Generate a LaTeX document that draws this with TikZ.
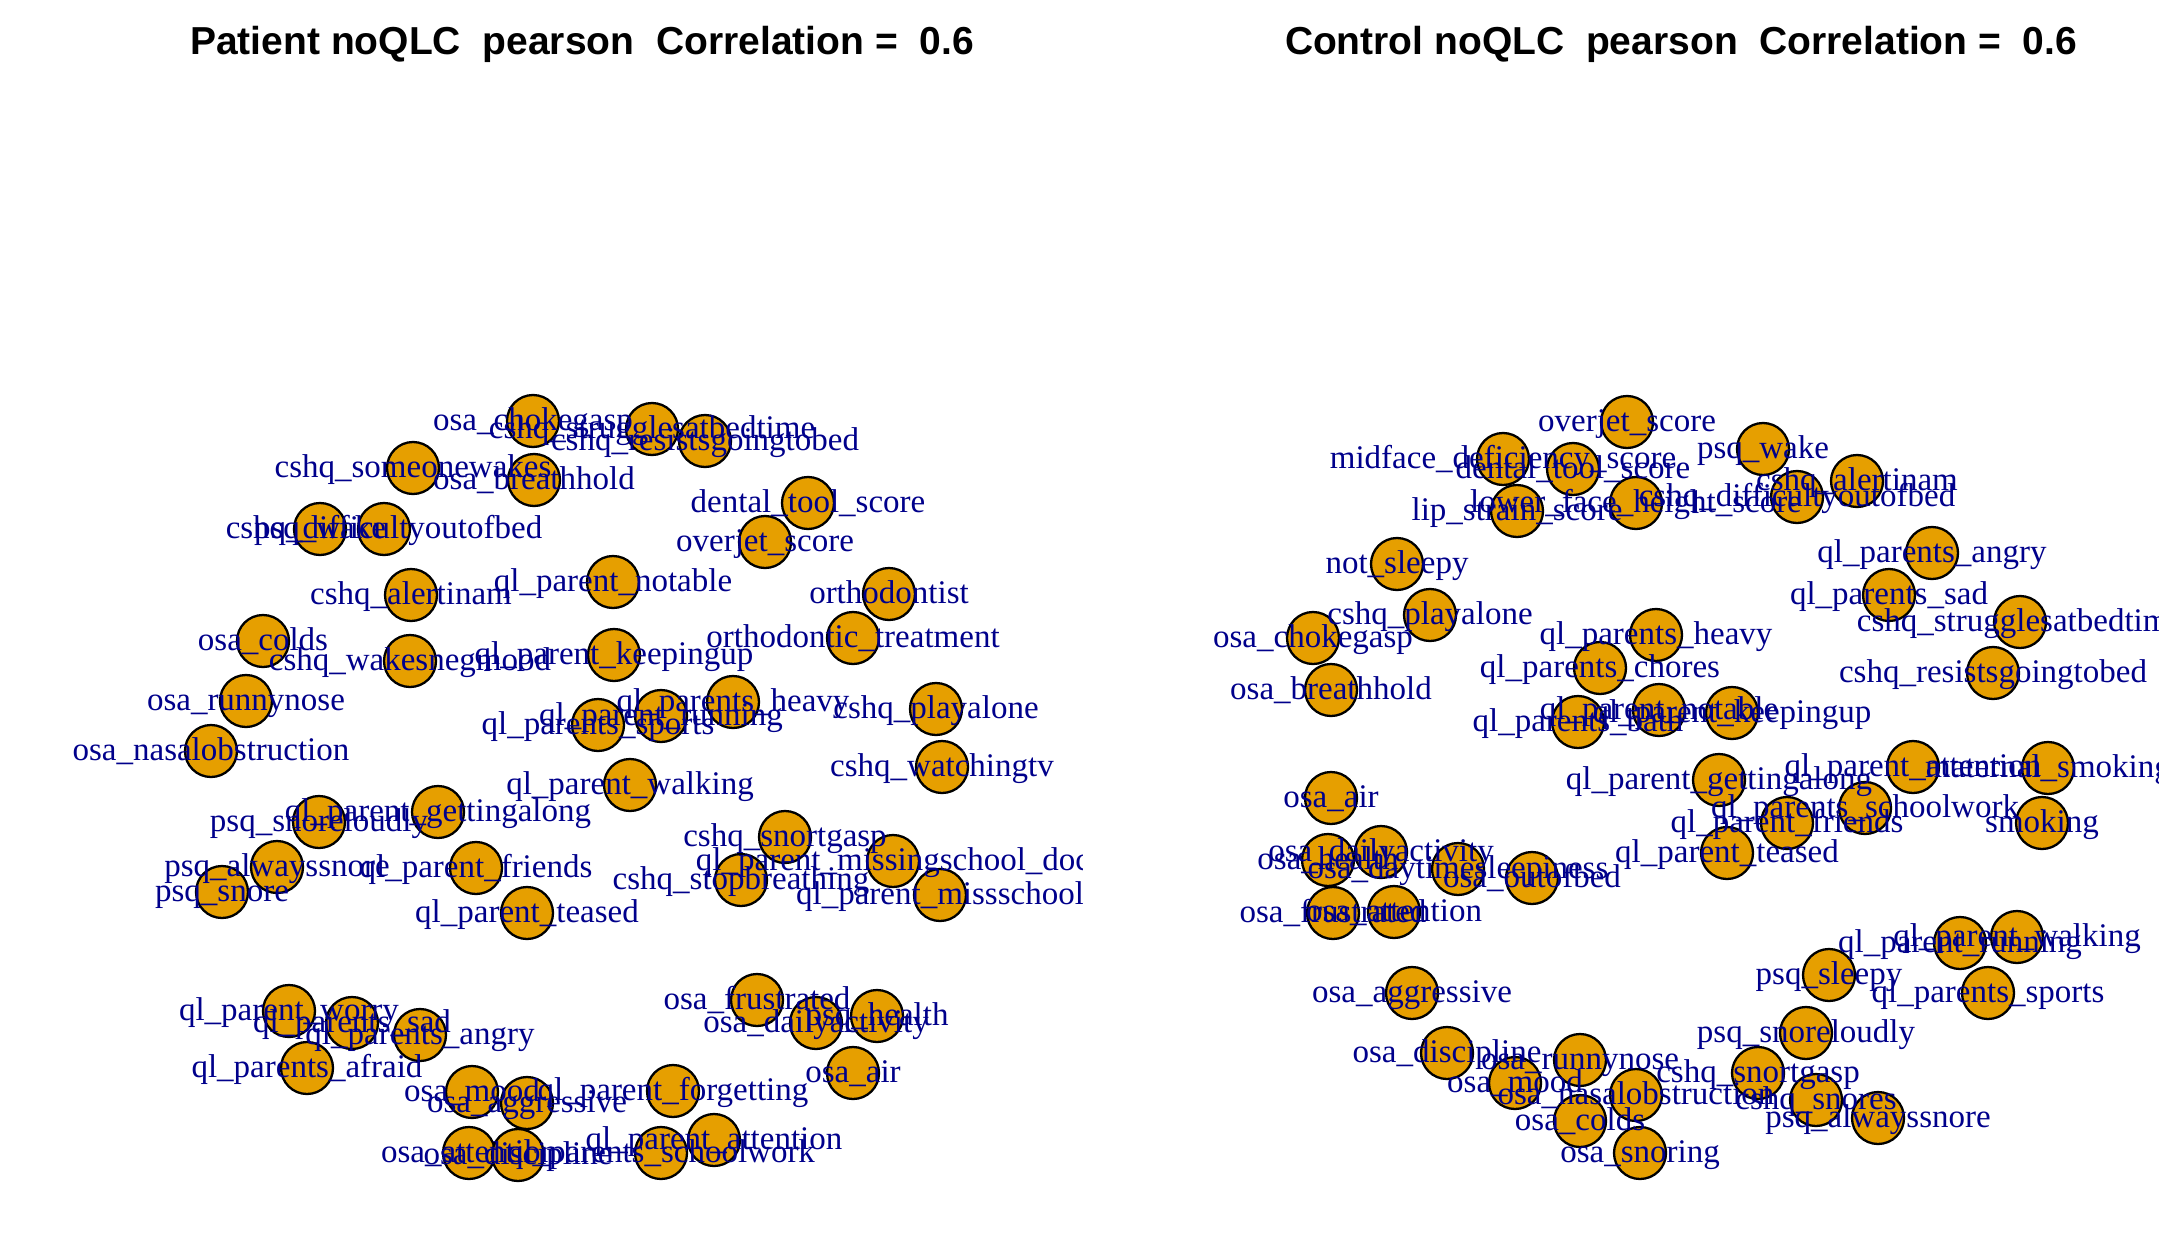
\documentclass[tikz,border=0pt]{standalone}
\usepackage{fontspec}
\setmainfont{Liberation Serif}
\newfontfamily\titlefont{Liberation Sans}
\definecolor{vfill}{HTML}{E69F00}
\definecolor{lblue}{HTML}{00008B}
\definecolor{egray}{HTML}{A9A9A9}
\pgfdeclarelayer{edgelayer}
\pgfsetlayers{edgelayer,main}
\newcommand\mkvx[3]{\node[vtx] (#1) at (#2,#3) {};}
\newcommand\mklbl[2]{\node[lab] (#1l) at (#1) {#2};}
\begin{document}
\begin{tikzpicture}[x=1pt,y=-1pt,
  vtx/.style={circle, draw=black, line width=2.3pt, fill=vfill, minimum size=52pt, inner sep=0pt},
  lab/.style={text=lblue, font=\fontsize{33}{33}\selectfont, anchor=base, yshift=-9.5pt, inner sep=0pt},
  edg/.style={draw=egray, line width=2pt},
  ttl/.style={font=\titlefont\bfseries\fontsize{39}{39}\selectfont, anchor=base, inner sep=0pt}]
\useasboundingbox[fill=white] (0,0) rectangle (2159,1244);
\node[ttl] (t1) at (582,55) {Patient noQLC\ \ pearson\ \ Correlation =\ \ 0.6};
\node[ttl] (t2) at (1681,55) {Control noQLC\ \ pearson\ \ Correlation =\ \ 0.6};
% ---------------- left panel vertices
\mkvx{L1}{533}{421}
\mkvx{L2}{652}{429}
\mkvx{L3}{705}{441}
\mkvx{L4}{413}{468}
\mkvx{L5}{534}{480}
\mkvx{L6}{320}{529}
\mkvx{L7}{384}{529}
\mkvx{L8}{808}{503}
\mkvx{L9}{765}{542}
\mkvx{L10}{411}{595}
\mkvx{L11}{613}{582}
\mkvx{L12}{889}{594}
\mkvx{L13}{263}{641}
\mkvx{L14}{410}{661}
\mkvx{L15}{614}{655}
\mkvx{L16}{853}{638}
\mkvx{L17}{246}{701}
\mkvx{L18}{733}{702}
\mkvx{L19}{661}{716}
\mkvx{L20}{598}{725}
\mkvx{L21}{936}{709}
\mkvx{L22}{211}{751}
\mkvx{L23}{630}{785}
\mkvx{L24}{942}{767}
\mkvx{L25}{319}{822}
\mkvx{L26}{438}{812}
\mkvx{L27}{785}{837}
\mkvx{L28}{277}{867}
\mkvx{L29}{476}{868}
\mkvx{L30}{893}{861}
\mkvx{L31}{222}{892}
\mkvx{L32}{741}{880}
\mkvx{L33}{940}{895}
\mkvx{L34}{527}{913}
\mkvx{L35}{289}{1011}
\mkvx{L36}{352}{1023}
\mkvx{L37}{420}{1035}
\mkvx{L38}{307}{1068}
\mkvx{L39}{757}{1000}
\mkvx{L40}{877}{1016}
\mkvx{L41}{816}{1023}
\mkvx{L42}{853}{1073}
\mkvx{L43}{472}{1092}
\mkvx{L44}{673}{1091}
\mkvx{L45}{527}{1103}
\mkvx{L46}{714}{1140}
\mkvx{L47}{469}{1153}
\mkvx{L48}{518}{1155}
\mkvx{L49}{661}{1153}
% ---------------- right panel vertices
\mkvx{R1}{1627}{422}
\mkvx{R2}{1503}{459}
\mkvx{R3}{1573}{469}
\mkvx{R4}{1636}{503}
\mkvx{R5}{1517}{511}
\mkvx{R6}{1763}{449}
\mkvx{R7}{1857}{481}
\mkvx{R8}{1797}{497}
\mkvx{R9}{1932}{553}
\mkvx{R10}{1889}{595}
\mkvx{R11}{2020}{622}
\mkvx{R12}{1993}{673}
\mkvx{R13}{1397}{564}
\mkvx{R14}{1430}{615}
\mkvx{R15}{1313}{638}
\mkvx{R16}{1331}{690}
\mkvx{R17}{1656}{635}
\mkvx{R18}{1600}{668}
\mkvx{R19}{1578}{722}
\mkvx{R20}{1659}{710}
\mkvx{R21}{1732}{713}
\mkvx{R22}{1719}{780}
\mkvx{R23}{1913}{767}
\mkvx{R24}{2048}{768}
\mkvx{R25}{1865}{808}
\mkvx{R26}{1787}{823}
\mkvx{R27}{2042}{823}
\mkvx{R28}{1727}{853}
\mkvx{R29}{1331}{798}
\mkvx{R30}{1381}{852}
\mkvx{R31}{1328}{860}
\mkvx{R32}{1458}{869}
\mkvx{R33}{1532}{878}
\mkvx{R34}{1333}{913}
\mkvx{R35}{1394}{912}
\mkvx{R36}{1412}{993}
\mkvx{R37}{1447}{1053}
\mkvx{R38}{1515}{1083}
\mkvx{R39}{1580}{1060}
\mkvx{R40}{1636}{1095}
\mkvx{R41}{1580}{1121}
\mkvx{R42}{1640}{1153}
\mkvx{R43}{1829}{975}
\mkvx{R44}{1806}{1033}
\mkvx{R45}{1758}{1073}
\mkvx{R46}{1816}{1100}
\mkvx{R47}{1878}{1118}
\mkvx{R48}{1960}{943}
\mkvx{R49}{2017}{937}
\mkvx{R50}{1988}{993}
% ---------------- edges (below the vertices)
\begin{pgfonlayer}{edgelayer}
\foreach \a/\b in {L4/L7,L7/L10,L10/L14,L6/L7,L1/L5,L2/L3,L8/L9,L12/L16,L13/L17,L17/L22,
  L11/L15,L15/L20,L15/L19,L20/L23,L19/L23,L19/L18,L20/L19,L21/L24,L25/L28,L28/L31,
  L26/L29,L29/L34,L27/L32,L30/L33,L36/L38,L37/L43,L43/L47,L43/L48,L45/L47,L45/L48,
  L47/L48,L39/L41,L41/L42,L40/L42,L44/L49,L44/L46,L49/L46,
  R1/R3,R2/R3,R3/R5,R3/R4,R2/R5,R6/R8,R8/R7,R9/R10,R11/R12,R13/R14,R15/R16,
  R17/R20,R18/R20,R20/R21,R20/R22,R21/R22,R22/R26,R26/R28,R26/R25,R25/R23,R24/R27,
  R29/R31,R29/R30,R31/R35,R30/R34,R31/R34,R35/R34,R30/R32,R35/R32,R32/R33,R35/R36,
  R36/R37,R37/R38,R38/R39,R38/R41,R39/R40,R41/R42,R43/R44,R44/R46,R45/R46,R46/R47,
  R48/R49,R48/R50,R49/R50}
  \draw[edg] (\a) -- (\b);
\end{pgfonlayer}
% ---------------- left labels
\begin{scope}
\clip (0,0) rectangle (1082,1244);
\mklbl{L1}{osa\_chokegasp}
\mklbl{L2}{cshq\_strugglesatbedtime}
\mklbl{L3}{cshq\_resistsgoingtobed}
\mklbl{L4}{cshq\_someonewakes}
\mklbl{L5}{osa\_breathhold}
\mklbl{L6}{psq\_wake}
\mklbl{L7}{cshq\_difficultyoutofbed}
\mklbl{L8}{dental\_tool\_score}
\mklbl{L9}{overjet\_score}
\mklbl{L10}{cshq\_alertinam}
\mklbl{L11}{ql\_parent\_notable}
\mklbl{L12}{orthodontist}
\mklbl{L13}{osa\_colds}
\mklbl{L14}{cshq\_wakesnegmood}
\mklbl{L15}{ql\_parent\_keepingup}
\mklbl{L16}{orthodontic\_treatment}
\mklbl{L17}{osa\_runnynose}
\mklbl{L18}{ql\_parents\_heavy}
\mklbl{L19}{ql\_parent\_running}
\mklbl{L20}{ql\_parents\_sports}
\mklbl{L21}{cshq\_playalone}
\mklbl{L22}{osa\_nasalobstruction}
\mklbl{L23}{ql\_parent\_walking}
\mklbl{L24}{cshq\_watchingtv}
\mklbl{L25}{psq\_snoreloudly}
\mklbl{L26}{ql\_parent\_gettingalong}
\mklbl{L27}{cshq\_snortgasp}
\mklbl{L28}{psq\_alwayssnore}
\mklbl{L29}{ql\_parent\_friends}
\mklbl{L30}{ql\_parent\_missingschool\_doc}
\mklbl{L31}{psq\_snore}
\mklbl{L32}{cshq\_stopbreathing}
\mklbl{L33}{ql\_parent\_missschool}
\mklbl{L34}{ql\_parent\_teased}
\mklbl{L35}{ql\_parent\_worry}
\mklbl{L36}{ql\_parents\_sad}
\mklbl{L37}{ql\_parents\_angry}
\mklbl{L38}{ql\_parents\_afraid}
\mklbl{L39}{osa\_frustrated}
\mklbl{L40}{psq\_health}
\mklbl{L41}{osa\_dailyactivity}
\mklbl{L42}{osa\_air}
\mklbl{L43}{osa\_mood}
\mklbl{L44}{ql\_parent\_forgetting}
\mklbl{L45}{osa\_aggressive}
\mklbl{L46}{ql\_parent\_attention}
\mklbl{L47}{osa\_attention}
\mklbl{L48}{osa\_discipline}
\mklbl{L49}{ql\_parents\_schoolwork}
\end{scope}
% ---------------- right labels
\begin{scope}
\clip (1080,0) rectangle (2159,1244);
\mklbl{R1}{overjet\_score}
\mklbl{R2}{midface\_deficiency\_score}
\mklbl{R3}{dental\_tool\_score}
\mklbl{R4}{lower\_face\_height\_score}
\mklbl{R5}{lip\_strain\_score}
\mklbl{R6}{psq\_wake}
\mklbl{R7}{cshq\_alertinam}
\mklbl{R8}{cshq\_difficultyoutofbed}
\mklbl{R9}{ql\_parents\_angry}
\mklbl{R10}{ql\_parents\_sad}
\mklbl{R11}{cshq\_strugglesatbedtime}
\mklbl{R12}{cshq\_resistsgoingtobed}
\mklbl{R13}{not\_sleepy}
\mklbl{R14}{cshq\_playalone}
\mklbl{R15}{osa\_chokegasp}
\mklbl{R16}{osa\_breathhold}
\mklbl{R17}{ql\_parents\_heavy}
\mklbl{R18}{ql\_parents\_chores}
\mklbl{R19}{ql\_parents\_bath}
\mklbl{R20}{ql\_parent\_notable}
\mklbl{R21}{ql\_parent\_keepingup}
\mklbl{R22}{ql\_parent\_gettingalong}
\mklbl{R23}{ql\_parent\_attention}
\mklbl{R24}{maternal\_smoking}
\mklbl{R25}{ql\_parents\_schoolwork}
\mklbl{R26}{ql\_parent\_friends}
\mklbl{R27}{smoking}
\mklbl{R28}{ql\_parent\_teased}
\mklbl{R29}{osa\_air}
\mklbl{R30}{osa\_dailyactivity}
\mklbl{R31}{osa\_health}
\mklbl{R32}{osa\_daytimesleepiness}
\mklbl{R33}{osa\_outofbed}
\mklbl{R34}{osa\_frustrated}
\mklbl{R35}{osa\_attention}
\mklbl{R36}{osa\_aggressive}
\mklbl{R37}{osa\_discipline}
\mklbl{R38}{osa\_mood}
\mklbl{R39}{osa\_runnynose}
\mklbl{R40}{osa\_nasalobstruction}
\mklbl{R41}{osa\_colds}
\mklbl{R42}{osa\_snoring}
\mklbl{R43}{psq\_sleepy}
\mklbl{R44}{psq\_snoreloudly}
\mklbl{R45}{cshq\_snortgasp}
\mklbl{R46}{cshq\_snores}
\mklbl{R47}{psq\_alwayssnore}
\mklbl{R48}{ql\_parent\_running}
\mklbl{R49}{ql\_parent\_walking}
\mklbl{R50}{ql\_parents\_sports}
\end{scope}
\end{tikzpicture}
\end{document}
